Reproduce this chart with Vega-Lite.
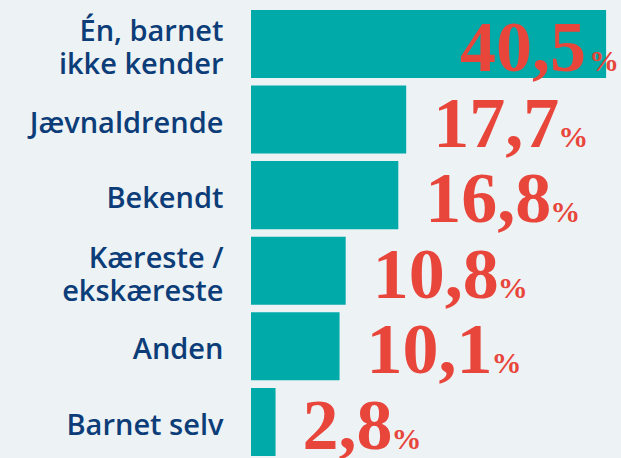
{
  "$schema": "https://vega.github.io/schema/vega-lite/v6.json",
  "width": 370,
  "height": 458,
  "padding": 0,
  "background": "#edf2f5",
  "view": {"stroke": null},
  "data": {"values": [
    {"category": "Én, barnet|ikke kender", "value": 40.5, "label": "40,5"},
    {"category": "Jævnaldrende", "value": 17.7, "label": "17,7"},
    {"category": "Bekendt", "value": 16.8, "label": "16,8"},
    {"category": "Kæreste /|ekskæreste", "value": 10.8, "label": "10,8"},
    {"category": "Anden", "value": 10.1, "label": "10,1"},
    {"category": "Barnet selv", "value": 2.8, "label": "2,8"}
  ]},
  "transform": [
    {"calculate": "datum.value + (36 * length(datum.label) + 8) / 8.768", "as": "pctX"}
  ],
  "encoding": {
    "y": {
      "field": "category", "type": "nominal", "sort": null,
      "scale": {"paddingInner": 0.1, "paddingOuter": 0.079, "align": 0.83},
      "axis": {
        "title": null, "domain": false, "ticks": false,
        "labelExpr": "split(datum.value, '|')",
        "labelFont": "Open Sans", "labelFontWeight": 600, "labelFontSize": 29,
        "labelColor": "#0c3d78", "labelLineHeight": 33, "labelPadding": 28,
        "labelOffset": {"condition": {"test": "indexof(datum.value, '|') >= 0", "value": -12}, "value": 4},
        "labelLimit": 300, "minExtent": 251, "maxExtent": 251
      }
    }
  },
  "layer": [
    {
      "mark": {"type": "bar", "color": "#00aaa8", "clip": true},
      "encoding": {
        "x": {"field": "value", "type": "quantitative", "scale": {"domain": [0, 42.2], "nice": false, "zero": true}, "axis": null}
      }
    },
    {
      "transform": [{"filter": "datum.value < 30"}],
      "mark": {"type": "text", "align": "left", "baseline": "alphabetic", "dx": 27, "dy": 27, "font": "Liberation Serif", "fontWeight": "bold", "fontSize": 72, "color": "#e8453b"},
      "encoding": {
        "x": {"field": "value", "type": "quantitative"},
        "text": {"field": "label"}
      }
    },
    {
      "transform": [{"filter": "datum.value < 30"}],
      "mark": {"type": "text", "align": "left", "baseline": "alphabetic", "dy": 27, "font": "Liberation Serif", "fontWeight": "bold", "fontSize": 30, "color": "#e8453b"},
      "encoding": {
        "x": {"field": "pctX", "type": "quantitative"},
        "text": {"value": "%"}
      }
    },
    {
      "transform": [{"filter": "datum.value >= 30"}],
      "mark": {"type": "text", "align": "right", "baseline": "alphabetic", "dx": -20, "dy": 27, "font": "Liberation Serif", "fontWeight": "bold", "fontSize": 72, "color": "#e8453b"},
      "encoding": {
        "x": {"field": "value", "type": "quantitative"},
        "text": {"field": "label"}
      }
    },
    {
      "transform": [{"filter": "datum.value >= 30"}],
      "mark": {"type": "text", "align": "left", "baseline": "alphabetic", "dx": -17, "dy": 27, "font": "Liberation Serif", "fontWeight": "bold", "fontSize": 30, "color": "#e8453b"},
      "encoding": {
        "x": {"field": "value", "type": "quantitative"},
        "text": {"value": "%"}
      }
    }
  ]
}
